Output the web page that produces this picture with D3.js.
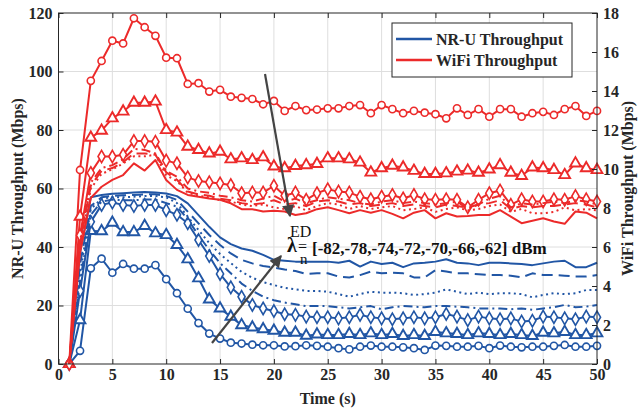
<!DOCTYPE html>
<html>
<head>
<meta charset="utf-8">
<script src="https://cdn.jsdelivr.net/npm/d3@7"></script>
<style>
  body { margin: 0; background: #fff; }
  svg text { font-family: "Liberation Serif", "Times New Roman", serif; }
</style>
</head>
<body>
<div id="chart"></div>
<script>
// time steps (s)
const TIME = d3.range(1, 51);

const X_TICKS = [0, 5, 10, 15, 20, 25, 30, 35, 40, 45, 50];
const Y_LEFT_TICKS = [0, 20, 40, 60, 80, 100, 120];
const Y_RIGHT_TICKS = [0, 2, 4, 6, 8, 10, 12, 14, 16, 18];

const ED_LABEL = "[-82,-78,-74,-72,-70,-66,-62] dBm";

// NR-U throughput (Mbps), one per ED threshold
const nru82 = [0, 4.5, 32.7, 36, 31.2, 34.2, 32.6, 32.6, 33.8, 29, 24.2, 18.9, 14, 10.4, 8.7, 7.3, 7, 6.6, 6.4, 6.4, 6, 6.1, 6.4, 6.2,
  5.9, 5.4, 5.0, 5.9, 6.3, 5.9, 5.9, 5.7, 5.4, 4.8, 6.3, 6.2, 5.9, 5.9, 6.2, 5.4, 6.3, 5.9, 5.7, 5.9, 5.9, 6.2, 6.5, 5.9, 5.9, 6.2];
const nru78 = [0, 15, 45.5, 45.4, 48.3, 45.1, 45.1, 47.2, 44.7, 44.1, 40.7, 35.8, 29.3, 22.1, 19, 16.2, 13.3, 12.5, 11.9, 11.4, 10.7, 10.7, 9.7, 10.1,
  9.9, 9.9, 10.3, 9.9, 10.5, 9.9, 10.3, 9.6, 9.9, 9.6, 11, 10.5, 10.3, 9.9, 10.5, 10.3, 9.9, 10.3, 9.9, 9.6, 10.7, 10.5, 11, 9.9, 9.9, 10.5];
const nru74 = [0, 25, 48.6, 54.4, 55.2, 54.4, 54, 54.4, 54.4, 52.6, 51, 48.1, 42.4, 36.9, 30.8, 26.2, 23, 20.2, 19, 18.1, 17, 16.8, 16.2, 16,
  16, 15.6, 16, 16.8, 16, 15.6, 15.3, 15.6, 16, 15.6, 16, 17.1, 16.2, 15, 16.2, 15.6, 15.3, 15.6, 14.5, 14.8, 16.2, 16, 15.6, 15.3, 16.2, 16];
const nru72 = [0, 28, 51, 55.5, 56.2, 56, 56, 56.2, 56.2, 55, 53.8, 49.5, 44, 39, 34.5, 31, 27.5, 25, 23, 21.8, 21, 20.4, 19.8, 19.8,
  19.8, 19.4, 19, 19.4, 19.8, 18.7, 19.4, 19.8, 19.6, 19.4, 19.8, 19.8, 19.6, 19.4, 19, 19, 19, 18.7, 19, 18.5, 19, 19.4, 20.2, 19.4, 19.6, 20.2];
const nru70 = [0, 31, 53, 56.5, 57, 57, 57.2, 57.4, 57.4, 57, 55, 50.4, 45.8, 41.3, 37.6, 34.5, 31.5, 29.5, 28, 27, 26, 25.5, 25, 25,
  24.7, 23.9, 23, 23.9, 24.7, 24.4, 24.4, 24.2, 23.6, 23.9, 24.4, 25.5, 24.7, 23.9, 24.4, 23.9, 24.2, 24.2, 23.9, 22.8, 23.6, 24.2, 23.9, 24.2, 25.3, 25.3];
const nru66 = [0, 34, 54, 57, 57.5, 57.7, 57.8, 58, 58, 57.5, 56.1, 52.1, 48.1, 44.1, 40.7, 37.8, 35.6, 34.4, 33.5, 33, 32.3, 31.8, 30.8, 31,
  31, 29.9, 29.6, 30.4, 31.6, 31, 31.2, 31, 29.6, 29.6, 32.1, 31.6, 31, 31, 30.7, 30.4, 30.4, 30.2, 29.6, 31, 30.4, 30.4, 30.2, 29.9, 29.9, 30.4];
const nru62 = [0, 38, 57, 57.8, 58.2, 58.4, 58.6, 58.8, 58.6, 58.3, 57.4, 54.9, 50.9, 46.9, 43.3, 41, 39.5, 38.7, 37.3, 35.6, 35.3, 35, 35, 35,
  35, 34.6, 35.3, 33.3, 35, 34.2, 34.6, 33.1, 34.4, 34.6, 35, 35.8, 34.6, 34.4, 33.8, 34.6, 34.6, 34.4, 34.2, 33.8, 34.4, 35, 35.3, 33.1, 33.1, 34.6];

// WiFi throughput (Mbps), one per ED threshold
const wifi82 = [0, 9.95, 14.52, 15.54, 16.58, 16.44, 17.73, 17.27, 16.83, 15.71, 15.68, 14.36, 14.4, 13.97, 14.06, 13.71, 13.65, 13.59, 13.32, 13.49, 12.98, 13.23, 13.02, 13.05,
  13.11, 13.11, 13.23, 13.28, 12.86, 13.28, 13.07, 12.86, 12.98, 12.89, 12.81, 12.6, 13.11, 12.77, 13.07, 12.68, 13.07, 13.07, 12.68, 12.86, 12.93, 12.77, 13.07, 13.23, 12.72, 12.98];
const wifi78 = [0, 7.56, 11.61, 11.97, 12.6, 12.95, 13.4, 13.4, 13.46, 12.0, 11.87, 11.15, 10.98, 10.8, 10.89, 10.5, 10.55, 10.46, 10.6, 10.13, 10.04, 10.16, 10.2, 10.26,
  10.55, 10.55, 10.5, 10.33, 9.82, 10.04, 10.17, 10.08, 9.91, 9.75, 9.75, 9.78, 9.87, 9.92, 9.81, 9.98, 10.2, 9.81, 9.65, 10.08, 10.04, 9.95, 9.69, 10.29, 10.04, 9.95];
const wifi74 = [0, 6.6, 9.8, 10.64, 10.64, 10.73, 11.43, 11.43, 11.4, 10.43, 10.29, 9.57, 9.38, 9.32, 9.26, 9.18,
  8.76, 8.79, 8.79, 9.14, 8.63, 8.79, 8.42, 8.76, 8.96, 8.84, 8.79, 8.58, 8.45, 8.58, 8.67, 8.49, 8.67,
  8.45, 8.42, 8.45, 8.42, 8.04, 8.42, 8.76, 8.9, 8.16, 8.45, 8.33, 8.33, 8.45, 8.42, 8.61, 8.45, 8.33];
const wifi72 = [0, 6.3, 9.3, 10.05, 10.2, 10.5, 11.03, 10.98, 10.8, 9.9, 9.6, 9.0, 8.85, 8.78, 8.63, 8.55,
  8.4, 8.33, 8.48, 8.63, 8.33, 8.48, 8.25, 8.4, 8.55, 8.48, 8.4, 8.25, 8.18, 8.33, 8.4, 8.25, 8.33,
  8.25, 8.18, 8.25, 8.33, 7.95, 8.18, 8.48, 8.63, 8.03, 8.25, 8.18, 8.25, 8.33, 8.25, 8.4, 8.33, 8.18];
const wifi70 = [0, 6.0, 9.0, 9.75, 9.98, 10.28, 10.65, 10.65, 10.73, 9.68, 9.38, 8.78, 8.63, 8.55, 8.4, 8.33,
  8.18, 8.1, 8.18, 8.03, 7.95, 8.1, 7.88, 8.1, 8.25, 8.18, 7.95, 8.1, 7.95, 8.03, 8.1, 7.88, 7.95,
  8.03, 7.8, 7.95, 8.03, 7.88, 7.95, 8.1, 8.18, 7.8, 7.95, 7.73, 7.73, 7.8, 8.03, 7.88, 7.95, 7.88];
const wifi66 = [0, 6.15, 9.15, 9.9, 10.05, 10.35, 10.8, 10.8, 10.73, 9.83, 9.45, 8.85, 8.7, 8.63, 8.48, 8.4,
  8.25, 8.18, 8.25, 8.4, 8.18, 8.25, 8.1, 8.33, 8.4, 8.33, 8.18, 8.25, 8.1, 8.18, 8.25, 8.1, 8.18,
  8.1, 8.03, 8.18, 8.1, 8.03, 8.18, 8.25, 8.4, 7.95, 8.1, 8.03, 8.1, 8.1, 8.18, 8.25, 8.18, 8.03];
const wifi62 = [0, 5.7, 8.51, 9.09, 9.44, 9.69, 10.29, 9.92, 10.46, 9.44, 8.93, 8.67, 8.58, 8.49, 8.42, 8.24,
  7.94, 7.94, 7.82, 7.86, 7.82, 7.64, 7.73, 7.94, 8.04, 7.89, 7.73, 7.89, 7.76, 7.89, 7.7, 7.47, 7.76,
  7.89, 7.47, 7.73, 7.56, 7.59, 7.64, 7.64, 7.89, 7.56, 7.22, 7.35, 7.47, 7.31, 7.19, 7.82, 7.76, 7.47];

const BLUE = "#2156a5";
const RED = "#ec2a2a";
const AXIS = "#262626";
const ARROW = "#444444";

// styles per threshold: marker or dash pattern
const STYLES = [
  { marker: "circle" },
  { marker: "triangle" },
  { marker: "diamond" },
  { dash: "9,4,2,4" },
  { dash: "2,3.5" },
  { dash: "11,6" },
  {},
];

const nruSeries = [nru82, nru78, nru74, nru72, nru70, nru66, nru62];
const wifiSeries = [wifi82, wifi78, wifi74, wifi72, wifi70, wifi66, wifi62];

const W = 639;
const H = 409;
const margin = [13, 42, 45, 58.5]; // top right bottom left
const [mTop, mRight, mBottom, mLeft] = margin;
const iw = W - mLeft - mRight;
const ih = H - mTop - mBottom;

const x = d3.scaleLinear().domain([0, 50]).range([0, iw]);
const yL = d3.scaleLinear().domain([0, 120]).range([ih, 0]);
const yR = d3.scaleLinear().domain([0, 18]).range([ih, 0]);

const svg = d3.select("#chart").append("svg")
  .attr("width", W).attr("height", H)
  .attr("viewBox", `0 0 ${W} ${H}`);

svg.append("defs").append("marker")
  .attr("id", "arrowhead")
  .attr("viewBox", "0 0 10 10")
  .attr("refX", 9).attr("refY", 5)
  .attr("markerWidth", 6.5).attr("markerHeight", 5.5)
  .attr("markerUnits", "strokeWidth")
  .attr("orient", "auto")
  .append("path").attr("d", "M0,0L10,5L0,10Z").attr("fill", ARROW);

const g = svg.append("g").attr("transform", `translate(${mLeft},${mTop})`);

// grid
g.append("g").selectAll("line").data(X_TICKS.slice(1, -1)).join("line")
  .attr("x1", (d) => x(d)).attr("x2", (d) => x(d))
  .attr("y1", 0).attr("y2", ih)
  .attr("stroke", "#dedede").attr("stroke-width", 1);
g.append("g").selectAll("line").data(Y_LEFT_TICKS.slice(1, -1)).join("line")
  .attr("x1", 0).attr("x2", iw)
  .attr("y1", (d) => yL(d)).attr("y2", (d) => yL(d))
  .attr("stroke", "#dedede").attr("stroke-width", 1);

const drawSeries = (series, yScale, color) => {
  series.forEach((vals, i) => {
    const st = STYLES[i];
    const pts = TIME.map((t, j) => [t, vals[j]]);
    const line = d3.line().x((d) => x(d[0])).y((d) => yScale(d[1]));
    g.append("path")
      .datum(pts)
      .attr("fill", "none")
      .attr("stroke", color)
      .attr("stroke-width", 2)
      .attr("stroke-linejoin", "round")
      .attr("stroke-dasharray", st.dash || null)
      .attr("d", line);
    if (st.marker) {
      const type = st.marker === "circle" ? d3.symbolCircle
        : st.marker === "triangle" ? d3.symbolTriangle : d3.symbolDiamond;
      const size = st.marker === "circle" ? 40 : st.marker === "triangle" ? 50 : 44;
      g.append("g").selectAll("path").data(pts).join("path")
        .attr("transform", (d) => `translate(${x(d[0])},${yScale(d[1])})`)
        .attr("d", d3.symbol().type(type).size(size))
        .attr("fill", "#fff")
        .attr("stroke", color)
        .attr("stroke-width", st.marker === "triangle" ? 1.9 : 1.6);
    }
  });
};

drawSeries(nruSeries, yL, BLUE);
drawSeries(wifiSeries, yR, RED);

// axes
const styleAxis = (sel) => {
  sel.select(".domain").remove();
  sel.selectAll(".tick line").attr("stroke", AXIS);
  sel.selectAll("text")
    .attr("fill", AXIS)
    .style("font-size", "16px")
    .style("font-weight", "bold");
};

g.append("g").attr("transform", `translate(0,${ih})`)
  .call(d3.axisBottom(x).tickValues(X_TICKS).tickSizeInner(-5).tickSizeOuter(0).tickPadding(5))
  .call(styleAxis);
g.append("g")
  .call(d3.axisTop(x).tickValues(X_TICKS).tickSizeInner(-5).tickSizeOuter(0).tickFormat(""))
  .call(styleAxis);
g.append("g")
  .call(d3.axisLeft(yL).tickValues(Y_LEFT_TICKS).tickSizeInner(-5).tickSizeOuter(0).tickPadding(6))
  .call(styleAxis);
g.append("g").attr("transform", `translate(${iw},0)`)
  .call(d3.axisRight(yR).tickValues(Y_RIGHT_TICKS).tickSizeInner(-5).tickSizeOuter(0).tickPadding(6))
  .call(styleAxis);

g.append("rect")
  .attr("width", iw).attr("height", ih)
  .attr("fill", "none").attr("stroke", AXIS).attr("stroke-width", 1);

// axis titles
svg.append("text")
  .attr("x", mLeft + iw / 2).attr("y", 404)
  .attr("text-anchor", "middle")
  .style("font-size", "16px").style("font-weight", "bold").attr("fill", AXIS)
  .text("Time (s)");
svg.append("text")
  .attr("transform", `translate(23,${mTop + ih / 2}) rotate(-90)`)
  .attr("text-anchor", "middle")
  .style("font-size", "16px").style("font-weight", "bold").attr("fill", AXIS)
  .text("NR-U Throughput (Mbps)");
svg.append("text")
  .attr("transform", `translate(633,${mTop + ih / 2}) rotate(-90)`)
  .attr("text-anchor", "middle")
  .style("font-size", "16px").style("font-weight", "bold").attr("fill", AXIS)
  .text("WiFi Throughput (Mbps)");

// arrows
const arrow = (x1, y1, x2, y2) => svg.append("line")
  .attr("x1", x1).attr("y1", y1).attr("x2", x2).attr("y2", y2)
  .attr("stroke", ARROW).attr("stroke-width", 2.2)
  .attr("marker-end", "url(#arrowhead)");
arrow(265, 74, 290, 216);
arrow(212, 343, 281, 256);

// ED annotation: lambda with superscript ED and subscript n, one text element
const ann = svg.append("text").attr("fill", "#111");
ann.append("tspan").attr("x", 290).attr("y", 237)
  .style("font-size", "16px").text("ED");
ann.append("tspan").attr("x", 287).attr("y", 252)
  .style("font-size", "20px").style("font-weight", "bold").text("λ");
ann.append("tspan").attr("x", 298).attr("y", 252)
  .style("font-size", "16px").text("=");
ann.append("tspan").attr("x", 300).attr("y", 264)
  .style("font-size", "15px").text("n");
ann.append("tspan").attr("x", 312).attr("y", 254)
  .style("font-size", "17px").style("font-weight", "bold").text(ED_LABEL);

// legend
const lg = svg.append("g").attr("transform", "translate(392,23)");
lg.append("rect").attr("width", 180).attr("height", 54)
  .attr("fill", "#fff").attr("stroke", AXIS).attr("stroke-width", 1);
[["NR-U Throughput", BLUE], ["WiFi Throughput", RED]].forEach(([label, color], i) => {
  const ly = 16 + i * 21;
  lg.append("line").attr("x1", 4).attr("x2", 40).attr("y1", ly).attr("y2", ly)
    .attr("stroke", color).attr("stroke-width", 2.5);
  lg.append("text").attr("x", 44).attr("y", ly + 5.5)
    .style("font-size", "16px").style("font-weight", "bold").attr("fill", AXIS)
    .text(label);
});
</script>
</body>
</html>
